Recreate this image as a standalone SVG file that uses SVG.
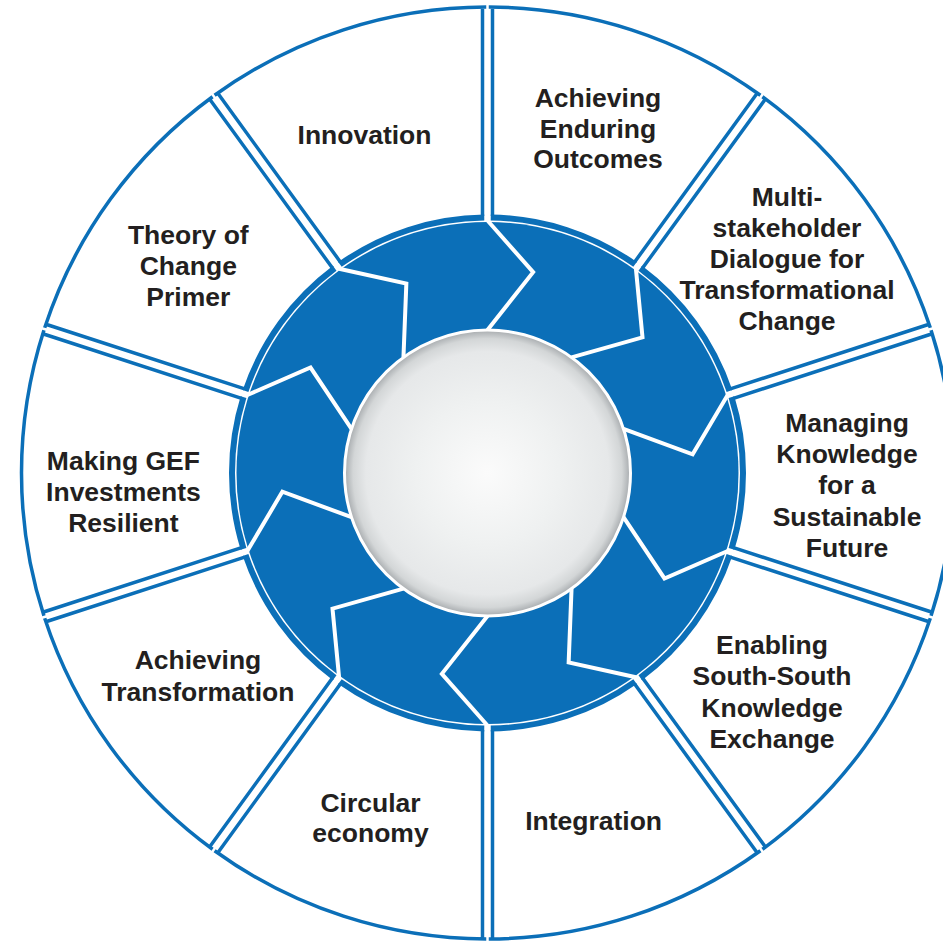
<svg xmlns="http://www.w3.org/2000/svg" xmlns:xlink="http://www.w3.org/1999/xlink" width="943" height="942" viewBox="0 0 943 942">
  <style>
    .sec { fill: none; stroke: #0b6fb8; stroke-width: 3.5; }
    .band { fill: none; stroke: #0b6fb8; stroke-width: 6; }
    .zz { fill: none; stroke: #ffffff; stroke-width: 4; stroke-linejoin: miter; }
    .lbl { font-family: "Liberation Sans", Arial, sans-serif; font-weight: bold; font-size: 26.5px; fill: #231f20; text-anchor: middle; }
  </style>
  <defs>
    <path id="sector" d="M -142.813 -443.579 A 466 466 0 0 1 142.813 -443.579 M 139.238 -444.711 L 74.647 -245.920 M -139.238 -444.711 L -74.647 -245.920"/>
    <path id="band" d="M -75.856 -243.980 A 255.5 255.5 0 0 1 75.856 -243.980"/>
    <polyline id="zz" points="0,-252.5 45.639,-200.881 0,-143"/>
    <radialGradient id="disc" cx="0.5" cy="0.5" r="0.5">
      <stop offset="0" stop-color="#fbfbfb"/>
      <stop offset="0.5" stop-color="#eff1f1"/>
      <stop offset="0.85" stop-color="#e6e8e9"/>
      <stop offset="0.94" stop-color="#d3d6d7"/>
      <stop offset="1" stop-color="#a6aaad"/>
    </radialGradient>
  </defs>
  <rect width="943" height="942" fill="#ffffff"/>

  <g id="hub">
    <circle cx="487.5" cy="473" r="251" fill="#0b6fb8"/>
    <g transform="translate(487.5 473)">
      <use href="#zz" class="zz"/>
      <use href="#zz" class="zz" transform="rotate(36)"/>
      <use href="#zz" class="zz" transform="rotate(72)"/>
      <use href="#zz" class="zz" transform="rotate(108)"/>
      <use href="#zz" class="zz" transform="rotate(144)"/>
      <use href="#zz" class="zz" transform="rotate(180)"/>
      <use href="#zz" class="zz" transform="rotate(216)"/>
      <use href="#zz" class="zz" transform="rotate(252)"/>
      <use href="#zz" class="zz" transform="rotate(288)"/>
      <use href="#zz" class="zz" transform="rotate(324)"/>
    </g>
    <circle cx="487.5" cy="473" r="143" fill="url(#disc)" stroke="#ffffff" stroke-width="3"/>
  </g>

  <g id="node-innovation">
    <use href="#sector" class="sec" transform="translate(487.5 473) rotate(-18)"/>
    <use href="#band" class="band" transform="translate(487.5 473) rotate(-18)"/>
    <text class="lbl" x="364.5" y="143.5">Innovation</text>
  </g>
  <g id="node-enduring-outcomes">
    <use href="#sector" class="sec" transform="translate(487.5 473) rotate(18)"/>
    <use href="#band" class="band" transform="translate(487.5 473) rotate(18)"/>
    <text class="lbl" x="598" y="107">Achieving<tspan x="598" dy="30.7">Enduring</tspan><tspan x="598" dy="30.7">Outcomes</tspan></text>
  </g>
  <g id="node-multistakeholder">
    <use href="#sector" class="sec" transform="translate(487.5 473) rotate(54)"/>
    <use href="#band" class="band" transform="translate(487.5 473) rotate(54)"/>
    <text class="lbl" x="787" y="205.7">Multi-<tspan x="787" dy="31">stakeholder</tspan><tspan x="787" dy="31">Dialogue for</tspan><tspan x="787" dy="31">Transformational</tspan><tspan x="787" dy="31">Change</tspan></text>
  </g>
  <g id="node-managing-knowledge">
    <use href="#sector" class="sec" transform="translate(487.5 473) rotate(90)"/>
    <use href="#band" class="band" transform="translate(487.5 473) rotate(90)"/>
    <text class="lbl" x="847" y="431.8">Managing<tspan x="847" dy="31.3">Knowledge</tspan><tspan x="847" dy="31.3">for a</tspan><tspan x="847" dy="31.3">Sustainable</tspan><tspan x="847" dy="31.3">Future</tspan></text>
  </g>
  <g id="node-south-south">
    <use href="#sector" class="sec" transform="translate(487.5 473) rotate(126)"/>
    <use href="#band" class="band" transform="translate(487.5 473) rotate(126)"/>
    <text class="lbl" x="772" y="654.3">Enabling<tspan x="772" dy="31.1">South-South</tspan><tspan x="772" dy="31.1">Knowledge</tspan><tspan x="772" dy="31.1">Exchange</tspan></text>
  </g>
  <g id="node-integration">
    <use href="#sector" class="sec" transform="translate(487.5 473) rotate(162)"/>
    <use href="#band" class="band" transform="translate(487.5 473) rotate(162)"/>
    <text class="lbl" x="593.6" y="829.5">Integration</text>
  </g>
  <g id="node-circular-economy">
    <use href="#sector" class="sec" transform="translate(487.5 473) rotate(198)"/>
    <use href="#band" class="band" transform="translate(487.5 473) rotate(198)"/>
    <text class="lbl" x="370.5" y="811.9">Circular<tspan x="370.5" dy="30.5">economy</tspan></text>
  </g>
  <g id="node-achieving-transformation">
    <use href="#sector" class="sec" transform="translate(487.5 473) rotate(234)"/>
    <use href="#band" class="band" transform="translate(487.5 473) rotate(234)"/>
    <text class="lbl" x="198" y="669.3">Achieving<tspan x="198" dy="31.3">Transformation</tspan></text>
  </g>
  <g id="node-resilient">
    <use href="#sector" class="sec" transform="translate(487.5 473) rotate(270)"/>
    <use href="#band" class="band" transform="translate(487.5 473) rotate(270)"/>
    <text class="lbl" x="123.4" y="470.3">Making GEF<tspan x="123.4" dy="31">Investments</tspan><tspan x="123.4" dy="31">Resilient</tspan></text>
  </g>
  <g id="node-theory-of-change">
    <use href="#sector" class="sec" transform="translate(487.5 473) rotate(306)"/>
    <use href="#band" class="band" transform="translate(487.5 473) rotate(306)"/>
    <text class="lbl" x="188.3" y="243.6">Theory of<tspan x="188.3" dy="31">Change</tspan><tspan x="188.3" dy="31">Primer</tspan></text>
  </g>

  <g id="connectors"></g>
</svg>
